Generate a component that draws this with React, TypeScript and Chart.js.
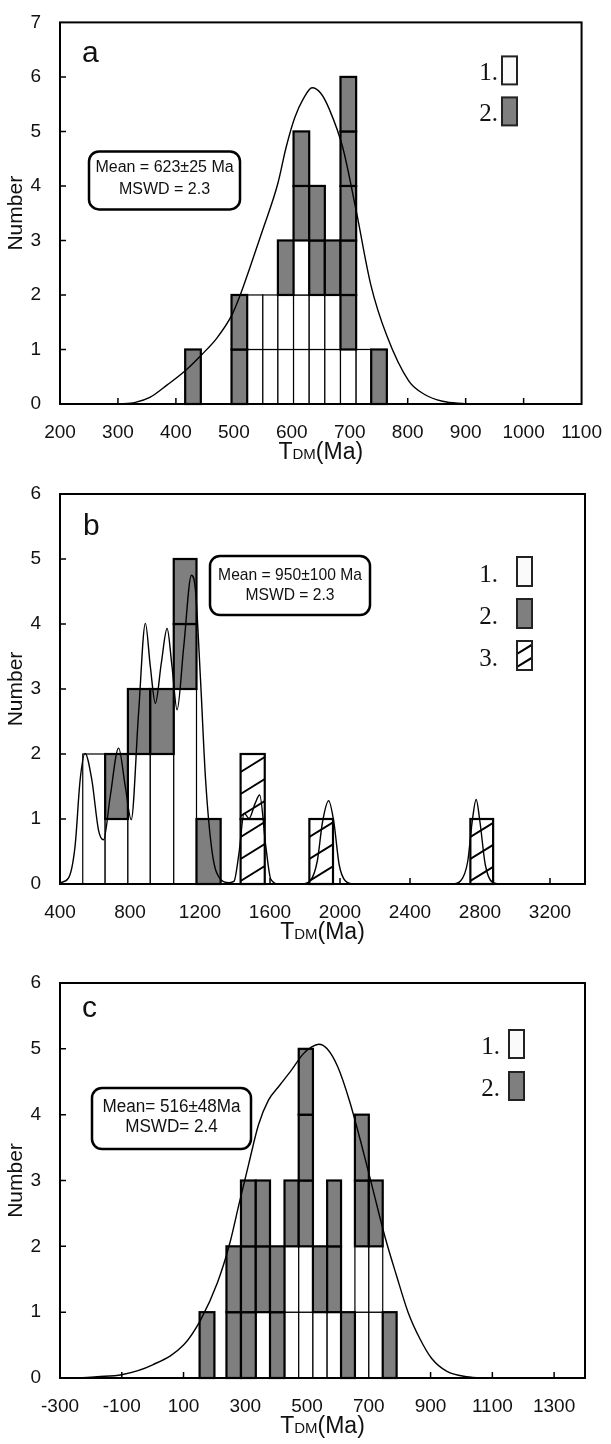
import React, { useEffect, useRef } from "react";
import { Chart, registerables } from "chart.js";

Chart.register(...registerables);

const SANS = '"Liberation Sans", Arial, Helvetica, sans-serif';
const SERIF = '"Liberation Serif", "Times New Roman", serif';

// ---------------- Panel a ----------------
const A_X_TICKS = [200, 300, 400, 500, 600, 700, 800, 900, 1000, 1100];
const A_BIN_LO = [416, 496, 523, 550, 576, 603, 630, 657, 684, 711, 737];
const A_BIN_HI = [443, 523, 550, 576, 603, 630, 657, 684, 711, 737, 764];
// each bin: list of [from, to, kind]  kind 1 = open, 2 = grey, 3 = hatched
const A_CELLS = [
  [[0, 1, 2]],
  [[0, 1, 2], [1, 2, 2]],
  [[0, 1, 1], [1, 2, 1]],
  [[0, 1, 1], [1, 2, 1]],
  [[0, 1, 1], [1, 2, 1], [2, 3, 2]],
  [[0, 1, 1], [1, 2, 1], [2, 3, 1], [3, 4, 2], [4, 5, 2]],
  [[0, 1, 1], [1, 2, 1], [2, 3, 2], [3, 4, 2]],
  [[0, 1, 1], [1, 2, 1], [2, 3, 2]],
  [[0, 1, 1], [1, 2, 2], [2, 3, 2], [3, 4, 2], [4, 5, 2], [5, 6, 2]],
  [[0, 1, 1]],
  [[0, 1, 2]],
];
const A_CURVE_T = [300, 330, 355, 385, 415, 444, 470, 496, 511, 526, 550, 576, 590, 605, 620, 635, 650, 665, 688, 711, 736, 764, 802, 830, 860, 900];
const A_CURVE_N = [0, 0.03, 0.12, 0.35, 0.6, 0.9, 1.2, 1.62, 2.0, 2.45, 3.2, 4.05, 4.7, 5.25, 5.6, 5.8, 5.7, 5.4, 4.7, 3.55, 2.2, 1.25, 0.42, 0.17, 0.05, 0];

// ---------------- Panel b ----------------
const B_X_TICKS = [400, 800, 1200, 1600, 2000, 2400, 2800, 3200];
const B_BIN_LO = [530, 658, 788, 916, 1050, 1180, 1432, 1825, 2745];
const B_BIN_HI = [658, 788, 916, 1050, 1180, 1318, 1570, 1960, 2875];
const B_CELLS = [
  [[0, 2, 1]],
  [[0, 1, 1], [1, 2, 2]],
  [[0, 2, 1], [2, 3, 2]],
  [[0, 2, 1], [2, 3, 2]],
  [[0, 3, 1], [3, 4, 2], [4, 5, 2]],
  [[0, 1, 2]],
  [[0, 1, 3], [1, 2, 3]],
  [[0, 1, 3]],
  [[0, 1, 3]],
];
const B_CURVE_T = [400, 448, 486, 515, 543, 582, 620, 649, 687, 735, 773, 807, 849, 888, 916, 945, 979, 1012, 1040, 1069, 1107, 1151, 1174, 1203, 1232, 1270, 1318, 1366, 1394, 1423, 1452, 1480, 1515, 1541, 1576, 1605, 1652, 1780, 1830, 1870, 1900, 1935, 1965, 1995, 2030, 2080, 2640, 2690, 2730, 2755, 2778, 2800, 2830, 2870, 2920, 3000];
const B_CURVE_N = [0.02, 0.09, 0.58, 1.6, 2.01, 1.6, 0.83, 0.68, 1.35, 2.09, 1.5, 0.99, 2.63, 4.01, 3.35, 2.78, 3.4, 3.93, 3.35, 2.68, 3.65, 4.75, 4.52, 3.14, 1.6, 0.48, 0.07, 0.02, 0.04, 0.48, 1.09, 1.01, 1.24, 1.37, 0.58, 0.07, 0, 0, 0.05, 0.35, 0.95, 1.28, 0.95, 0.3, 0.05, 0, 0, 0.05, 0.35, 0.95, 1.3, 0.95, 0.3, 0.03, 0, 0];

// ---------------- Panel c ----------------
const C_X_TICKS = [-300, -100, 100, 300, 500, 700, 900, 1100, 1300];
const C_BIN_LO = [152, 239, 286, 334, 380, 427, 473, 519, 565, 610, 655, 700, 745];
const C_BIN_HI = [200, 286, 334, 380, 427, 473, 519, 565, 610, 655, 700, 745, 790];
const C_CELLS = [
  [[0, 1, 2]],
  [[0, 1, 2], [1, 2, 2]],
  [[0, 1, 2], [1, 2, 2], [2, 3, 2]],
  [[0, 1, 1], [1, 2, 2], [2, 3, 2]],
  [[0, 1, 2], [1, 2, 2]],
  [[0, 1, 1], [1, 2, 1], [2, 3, 2]],
  [[0, 1, 1], [1, 2, 1], [2, 3, 2], [3, 4, 2], [4, 5, 2]],
  [[0, 1, 1], [1, 2, 2]],
  [[0, 1, 1], [1, 2, 2], [2, 3, 2]],
  [[0, 1, 2]],
  [[0, 1, 1], [1, 2, 1], [2, 3, 2], [3, 4, 2]],
  [[0, 1, 1], [1, 2, 1], [2, 3, 2]],
  [[0, 1, 2]],
];
const C_CURVE_T = [-250, -180, -100, 0, 100, 155, 210, 250, 280, 311, 343, 375, 412, 450, 487, 515, 538, 565, 600, 638, 676, 714, 752, 790, 827, 865, 903, 953, 1016, 1090];
const C_CURVE_N = [0, 0.02, 0.05, 0.2, 0.5, 0.88, 1.45, 2.05, 2.65, 3.25, 3.85, 4.22, 4.45, 4.68, 4.92, 5.03, 5.07, 5.0, 4.72, 4.2, 3.55, 2.85, 2.15, 1.55, 1.0, 0.6, 0.3, 0.1, 0.02, 0];

const LEGEND_LABELS_AC = ["1.", "2."];
const LEGEND_LABELS_B = ["1.", "2.", "3."];

const PANELS = [
  {
    key: "a", letter: "a", xMin: 200, xMax: 1100, yMax: 7, xTicks: A_X_TICKS,
    binLo: A_BIN_LO, binHi: A_BIN_HI, cells: A_CELLS, curveT: A_CURVE_T, curveN: A_CURVE_N,
    lines: ["Mean = 623\u00B125 Ma", "MSWD = 2.3"], legend: LEGEND_LABELS_AC,
    canvasTop: 0, canvasHeight: 470, padTop: 13,
    letterPos: [22, 40], letterSize: 30,
    box: { x: 29, y: 129, w: 151, h: 58, b1: 21, b2: 43, size: 16, sx: 1 },
    leg: { tx: 438, bx: 442, by: 34, bw: 15, bh: 28, gap: 41 },
  },
  {
    key: "b", letter: "b", xMin: 400, xMax: 3400, yMax: 6, xTicks: B_X_TICKS,
    binLo: B_BIN_LO, binHi: B_BIN_HI, cells: B_CELLS, curveT: B_CURVE_T, curveN: B_CURVE_N,
    lines: ["Mean = 950\u00B1100 Ma", "MSWD = 2.3"], legend: LEGEND_LABELS_B,
    canvasTop: 470, canvasHeight: 480, padTop: 24,
    letterPos: [23, 41], letterSize: 30,
    box: { x: 150, y: 62, w: 160, h: 59, b1: 24, b2: 44, size: 17, sx: 0.92 },
    leg: { tx: 438, bx: 457, by: 63, bw: 15, bh: 29, gap: 42 },
  },
  {
    key: "c", letter: "c", xMin: -300, xMax: 1400, yMax: 6, xTicks: C_X_TICKS,
    binLo: C_BIN_LO, binHi: C_BIN_HI, cells: C_CELLS, curveT: C_CURVE_T, curveN: C_CURVE_N,
    lines: ["Mean= 516\u00B148Ma", "MSWD= 2.4"], legend: LEGEND_LABELS_AC,
    canvasTop: 950, canvasHeight: 494, padTop: 33,
    letterPos: [22, 34], letterSize: 30,
    box: { x: 32, y: 105, w: 159, h: 61, b1: 24, b2: 44, size: 18, sx: 0.95 },
    leg: { tx: 440, bx: 449, by: 47, bw: 15, bh: 28, gap: 42 },
  },
];

const GREY = "#7f7f7f";

function hatch(ctx: CanvasRenderingContext2D, x0: number, y0: number, x1: number, y1: number, sp: number) {
  ctx.save();
  ctx.beginPath();
  ctx.rect(x0, y0, x1 - x0, y1 - y0);
  ctx.clip();
  const rise = (x1 - x0) * 0.62;
  ctx.beginPath();
  for (let yb = y1 - 3; yb > y0 - rise - 4; yb -= sp) {
    ctx.moveTo(x0, yb);
    ctx.lineTo(x1, yb - rise);
  }
  ctx.lineWidth = 2;
  ctx.strokeStyle = "#000";
  ctx.stroke();
  ctx.restore();
}

function drawCell(ctx: CanvasRenderingContext2D, x0: number, y0: number, x1: number, y1: number, kind: number, sp = 22) {
  ctx.save();
  ctx.fillStyle = kind === 2 ? GREY : "#ffffff";
  ctx.fillRect(x0, y0, x1 - x0, y1 - y0);
  if (kind === 3) hatch(ctx, x0, y0, x1, y1, sp);
  ctx.strokeStyle = "#000";
  ctx.lineWidth = kind === 1 ? 1.2 : 2.2;
  ctx.strokeRect(x0, y0, x1 - x0, y1 - y0);
  ctx.restore();
}

function roundRect(ctx: CanvasRenderingContext2D, x: number, y: number, w: number, h: number, r: number) {
  ctx.beginPath();
  ctx.moveTo(x + r, y);
  ctx.arcTo(x + w, y, x + w, y + h, r);
  ctx.arcTo(x + w, y + h, x, y + h, r);
  ctx.arcTo(x, y + h, x, y, r);
  ctx.arcTo(x, y, x + w, y, r);
  ctx.closePath();
}

function makePlugin(cfg: any) {
  return {
    id: "decor_" + cfg.key,
    beforeDatasetsDraw(chart: any) {
      const { ctx, chartArea: ca, scales } = chart;
      const x = scales.x;
      const y = scales.y;
      ctx.save();
      ctx.strokeStyle = "#000";
      ctx.lineWidth = 1.5;
      ctx.beginPath();
      cfg.xTicks.forEach((v: number) => {
        const px = x.getPixelForValue(v);
        if (px <= ca.left + 2 || px >= ca.right - 2) return;
        ctx.moveTo(px, ca.bottom);
        ctx.lineTo(px, ca.bottom - 6);
      });
      for (let k = 1; k < cfg.yMax; k++) {
        const py = y.getPixelForValue(k);
        ctx.moveTo(ca.left, py);
        ctx.lineTo(ca.left + 6, py);
      }
      ctx.stroke();
      ctx.restore();
      [1, 2, 3].forEach((kind) => {
        cfg.cells.forEach((segs: number[][], i: number) => {
          segs.forEach(([lo, hi, k]) => {
            if (k !== kind) return;
            const x0 = x.getPixelForValue(cfg.binLo[i]);
            const x1 = x.getPixelForValue(cfg.binHi[i]);
            const yTop = y.getPixelForValue(hi);
            const yBot = y.getPixelForValue(lo);
            drawCell(ctx, x0, yTop, x1, yBot, kind);
          });
        });
      });
    },
    afterDatasetsDraw(chart: any) {
      const { ctx, chartArea: ca } = chart;
      ctx.save();
      // frame
      ctx.strokeStyle = "#000";
      ctx.lineWidth = 2;
      ctx.strokeRect(ca.left, ca.top, ca.right - ca.left, ca.bottom - ca.top);
      // panel letter
      ctx.fillStyle = "#111";
      ctx.font = `${cfg.letterSize}px ${SANS}`;
      ctx.textAlign = "left";
      ctx.textBaseline = "alphabetic";
      ctx.fillText(cfg.letter, ca.left + cfg.letterPos[0], ca.top + cfg.letterPos[1]);
      // annotation box
      const b = cfg.box;
      ctx.lineWidth = 2.5;
      roundRect(ctx, ca.left + b.x, ca.top + b.y, b.w, b.h, 10);
      ctx.fillStyle = "#fff";
      ctx.fill();
      ctx.stroke();
      ctx.fillStyle = "#111";
      ctx.font = `${b.size}px ${SANS}`;
      ctx.textAlign = "center";
      [b.b1, b.b2].forEach((bl: number, i: number) => {
        ctx.save();
        ctx.translate(ca.left + b.x + b.w / 2, ca.top + b.y + bl);
        ctx.scale(b.sx, 1);
        ctx.fillText(cfg.lines[i], 0, 0);
        ctx.restore();
      });
      // legend
      const L = cfg.leg;
      cfg.legend.forEach((lab: string, i: number) => {
        const top = ca.top + L.by + i * L.gap;
        ctx.fillStyle = "#111";
        ctx.font = `25px ${SERIF}`;
        ctx.textAlign = "right";
        ctx.fillText(lab, ca.left + L.tx, top + L.bh - 4);
        const kind = i + 1;
        ctx.save();
        ctx.fillStyle = kind === 2 ? GREY : kind === 1 ? "#fafafa" : "#fff";
        ctx.fillRect(ca.left + L.bx, top, L.bw, L.bh);
        if (kind === 3) hatch(ctx, ca.left + L.bx, top, ca.left + L.bx + L.bw, top + L.bh, 13);
        ctx.strokeStyle = "#222";
        ctx.lineWidth = 2;
        ctx.strokeRect(ca.left + L.bx, top, L.bw, L.bh);
        ctx.restore();
      });
      // x axis title  T_DM(Ma)
      const big = `23px ${SANS}`;
      const small = `15px ${SANS}`;
      ctx.textAlign = "left";
      ctx.fillStyle = "#111";
      ctx.font = big;
      const wT = ctx.measureText("T").width;
      const wMa = ctx.measureText("(Ma)").width;
      ctx.font = small;
      const wDM = ctx.measureText("DM").width;
      const total = wT + wDM + wMa;
      let sx = (ca.left + ca.right) / 2 - total / 2;
      const base = ca.bottom + 55;
      ctx.font = big;
      ctx.fillText("T", sx, base);
      sx += wT;
      ctx.font = small;
      ctx.fillText("DM", sx, base);
      sx += wDM;
      ctx.font = big;
      ctx.fillText("(Ma)", sx, base);
      ctx.restore();
    },
  };
}

function Panel({ cfg }: { cfg: any }) {
  const ref = useRef<HTMLCanvasElement | null>(null);
  useEffect(() => {
    const canvas = ref.current;
    if (!canvas) return;
    const chart = new Chart(canvas, {
      type: "line",
      data: {
        datasets: [
          {
            data: cfg.curveT.map((t: number, i: number) => ({ x: t, y: cfg.curveN[i] })),
            borderColor: "#000",
            borderWidth: 1.4,
            pointRadius: 0,
            cubicInterpolationMode: "monotone",
            fill: false,
          },
        ],
      },
      options: {
        animation: false,
        responsive: false,
        maintainAspectRatio: false,
        devicePixelRatio: 1,
        events: [],
        layout: { padding: { top: cfg.padTop, right: 26, left: 0, bottom: 0 } },
        plugins: { legend: { display: false }, tooltip: { enabled: false } },
        scales: {
          x: {
            type: "linear",
            min: cfg.xMin,
            max: cfg.xMax,
            afterBuildTicks: (s: any) => {
              s.ticks = cfg.xTicks.map((v: number) => ({ value: v }));
            },
            afterFit: (s: any) => {
              s.height = 66;
            },
            grid: { display: false },
            border: { display: false },
            ticks: {
              autoSkip: false,
              maxRotation: 0,
              padding: 9,
              color: "#111",
              font: { family: SANS, size: 19 },
              callback: (v: any) => String(v),
            },
          },
          y: {
            type: "linear",
            min: 0,
            max: cfg.yMax,
            afterFit: (s: any) => {
              s.width = 60;
            },
            grid: { display: false },
            border: { display: false },
            ticks: {
              stepSize: 1,
              padding: 11,
              color: "#111",
              font: { family: SANS, size: 19 },
              callback: (v: any) => String(v),
            },
            title: {
              display: true,
              text: "Number",
              color: "#111",
              font: { family: SANS, size: 21 },
              padding: { top: 4, bottom: 0 },
            },
          },
        },
      } as any,
      plugins: [makePlugin(cfg)],
    });
    return () => chart.destroy();
  }, [cfg]);
  return (
    <canvas
      ref={ref}
      width={611}
      height={cfg.canvasHeight}
      style={{ position: "absolute", left: 0, top: cfg.canvasTop, display: "block" }}
    />
  );
}

export default function App() {
  return (
    <div style={{ position: "absolute", left: 0, top: 0, width: 611, height: 1444, background: "#fff" }}>
      {PANELS.map((p) => (
        <Panel key={p.key} cfg={p} />
      ))}
    </div>
  );
}
